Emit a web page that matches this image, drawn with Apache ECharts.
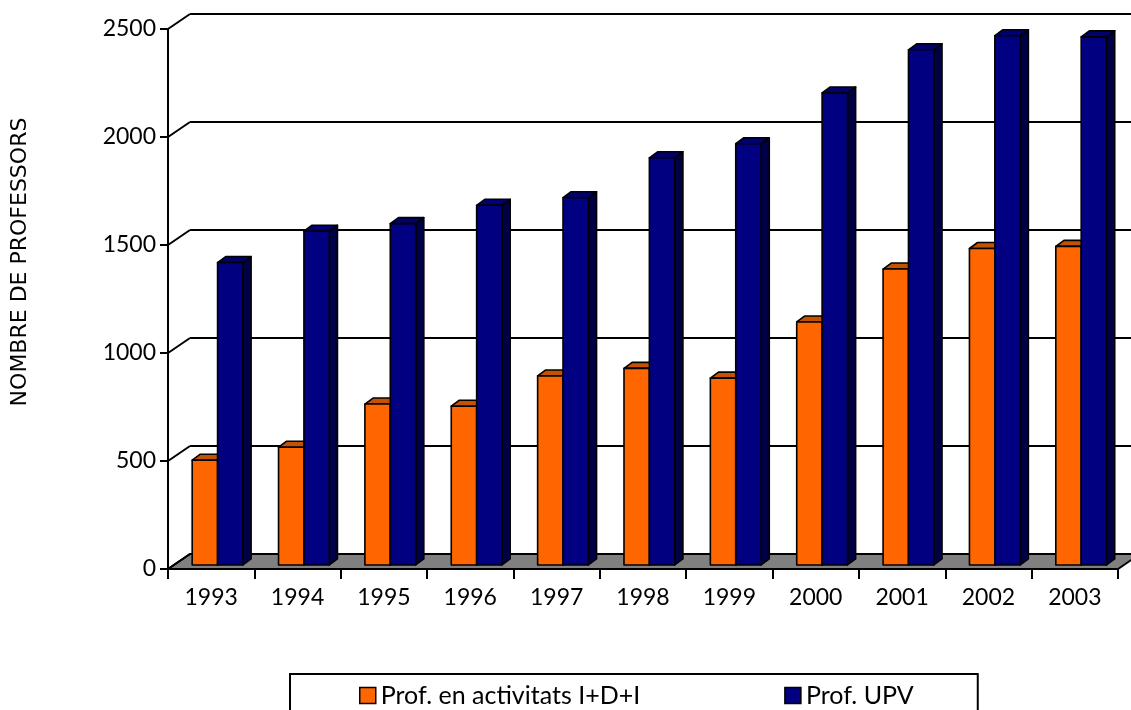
<!DOCTYPE html>
<html>
<head>
<meta charset="utf-8">
<script src="https://cdn.jsdelivr.net/npm/echarts@6/dist/echarts.min.js"></script>
<style>
  html, body { margin: 0; padding: 0; background: #fff; }
  #chart { width: 1131px; height: 710px; }
</style>
</head>
<body>
<div id="chart"></div>
<script>
var years = ["1993", "1994", "1995", "1996", "1997", "1998", "1999", "2000", "2001", "2002", "2003"];
var profRDI = [485, 545, 745, 735, 875, 910, 865, 1125, 1370, 1465, 1475];
var profUPV = [1400, 1545, 1580, 1665, 1700, 1885, 1950, 2185, 2385, 2450, 2445];
var yTicks = [0, 500, 1000, 1500, 2000, 2500];

var FONT = "Lato";
var DEPTH_X = 22, DEPTH_Y = -15;   // wall depth in px

var chart = echarts.init(document.getElementById("chart"), null, { renderer: "canvas" });

// 3d column: slot 0 = left bar, slot 1 = right bar
function bar3d(slot, front, side, top) {
  return function (params, api) {
    var i = api.value(0);
    var v = api.value(1);
    var base = api.coord([i, 0]);
    var pt = api.coord([i, v]);
    var band = api.size([1, 0])[0];
    var w = band * 0.294;
    var fx = DEPTH_X * 0.29, fy = DEPTH_Y * 0.27;
    var dx = DEPTH_X * 0.37, dy = DEPTH_Y * 0.4;
    var x0 = base[0] - w + slot * w + fx;
    var x1 = x0 + w;
    var yb = base[1] + fy;
    var yt = pt[1] + fy;
    var stroke = { stroke: "#000", lineWidth: 1.6, lineJoin: "round" };
    return {
      type: "group",
      children: [
        { type: "polygon", shape: { points: [[x1, yt], [x1 + dx, yt + dy], [x1 + dx, yb + dy], [x1, yb]] },
          style: Object.assign({ fill: side }, stroke) },
        { type: "polygon", shape: { points: [[x0, yt], [x1, yt], [x1 + dx, yt + dy], [x0 + dx, yt + dy]] },
          style: Object.assign({ fill: top }, stroke) },
        { type: "rect", shape: { x: x0, y: yt, width: w, height: yb - yt },
          style: Object.assign({ fill: front }, stroke) }
      ]
    };
  };
}

var option = {
  animation: false,
  backgroundColor: "#fff",
  textStyle: { fontFamily: FONT },
  graphic: [
    {
      type: "text",
      x: 20,
      y: 262,
      rotation: Math.PI / 2,
      style: {
        text: "NOMBRE DE PROFESSORS",
        font: "22px 'DejaVu Sans'",
        fill: "#000",
        align: "center",
        verticalAlign: "middle"
      }
    }
  ],
  legend: {
    left: 290,
    top: 674,
    padding: [9, 64, 14, 69],
    itemGap: 144,
    itemWidth: 16,
    itemHeight: 16,
    icon: "rect",
    borderColor: "#000",
    borderWidth: 2,
    backgroundColor: "#fff",
    itemStyle: { borderColor: "#000", borderWidth: 1.5 },
    textStyle: { fontFamily: FONT, fontSize: 25, color: "#000" },
    data: ["Prof. en activitats I+D+I", "Prof. UPV"]
  },
  grid: [
    { left: 168, right: 13, top: 29, bottom: 141 },
    { left: 190, right: -9, top: 14, bottom: 156 }
  ],
  xAxis: [
    {
      type: "category",
      gridIndex: 0,
      data: years,
      axisLine: { lineStyle: { color: "#000", width: 2 } },
      axisTick: { show: true, length: 10, lineStyle: { color: "#000", width: 2 } },
      axisLabel: { color: "#000", fontSize: 23, fontFamily: FONT, margin: 17 }
    },
    { type: "value", gridIndex: 1, show: false, min: 0, max: 1 }
  ],
  yAxis: [
    {
      type: "value",
      gridIndex: 0,
      min: 0,
      max: 2500,
      interval: 500,
      axisLine: { show: true, lineStyle: { color: "#000", width: 2 } },
      axisTick: { show: true, length: 8, lineStyle: { color: "#000", width: 2 } },
      axisLabel: {
        color: "#000", fontSize: 23, fontFamily: FONT, margin: 12,
        formatter: function (v) { return String(v); }
      },
      splitLine: { show: false }
    },
    {
      type: "value",
      gridIndex: 1,
      min: 0,
      max: 2500,
      interval: 500,
      axisLine: { show: false },
      axisTick: { show: false },
      axisLabel: { show: false },
      splitLine: { show: true, lineStyle: { color: "#000", width: 2 } }
    }
  ],
  series: [
    {
      // side wall connectors + floor
      name: "walls",
      type: "custom",
      xAxisIndex: 0,
      yAxisIndex: 0,
      z: 1,
      silent: true,
      data: yTicks.map(function (v) { return [0, v]; }),
      renderItem: function (params, api) {
        var v = api.value(1);
        var pt = api.coord([0, v]);
        var half = api.size([1, 0])[0] / 2;
        var xl = pt[0] - half;
        var xr = api.coord([years.length - 1, 0])[0] + half;
        var line = {
          type: "line",
          shape: { x1: xl, y1: pt[1], x2: xl + DEPTH_X, y2: pt[1] + DEPTH_Y },
          style: { stroke: "#000", lineWidth: 2 }
        };
        if (v !== 0) return line;
        return {
          type: "group",
          children: [
            {
              type: "polygon",
              shape: { points: [[xl, pt[1]], [xr, pt[1]], [xr + DEPTH_X, pt[1] + DEPTH_Y], [xl + DEPTH_X, pt[1] + DEPTH_Y]] },
              style: { fill: "#808080", stroke: "#000", lineWidth: 2 }
            },
            line
          ]
        };
      }
    },
    {
      name: "Prof. en activitats I+D+I",
      type: "custom",
      z: 3,
      itemStyle: { color: "#FF6600" },
      data: profRDI.map(function (v, i) { return [i, v]; }),
      renderItem: bar3d(0, "#FF6600", "#A04000", "#C45200")
    },
    {
      name: "Prof. UPV",
      type: "custom",
      z: 4,
      itemStyle: { color: "#000080" },
      data: profUPV.map(function (v, i) { return [i, v]; }),
      renderItem: bar3d(1, "#000080", "#000046", "#00006E")
    }
  ]
};

chart.setOption(option);
</script>
</body>
</html>
